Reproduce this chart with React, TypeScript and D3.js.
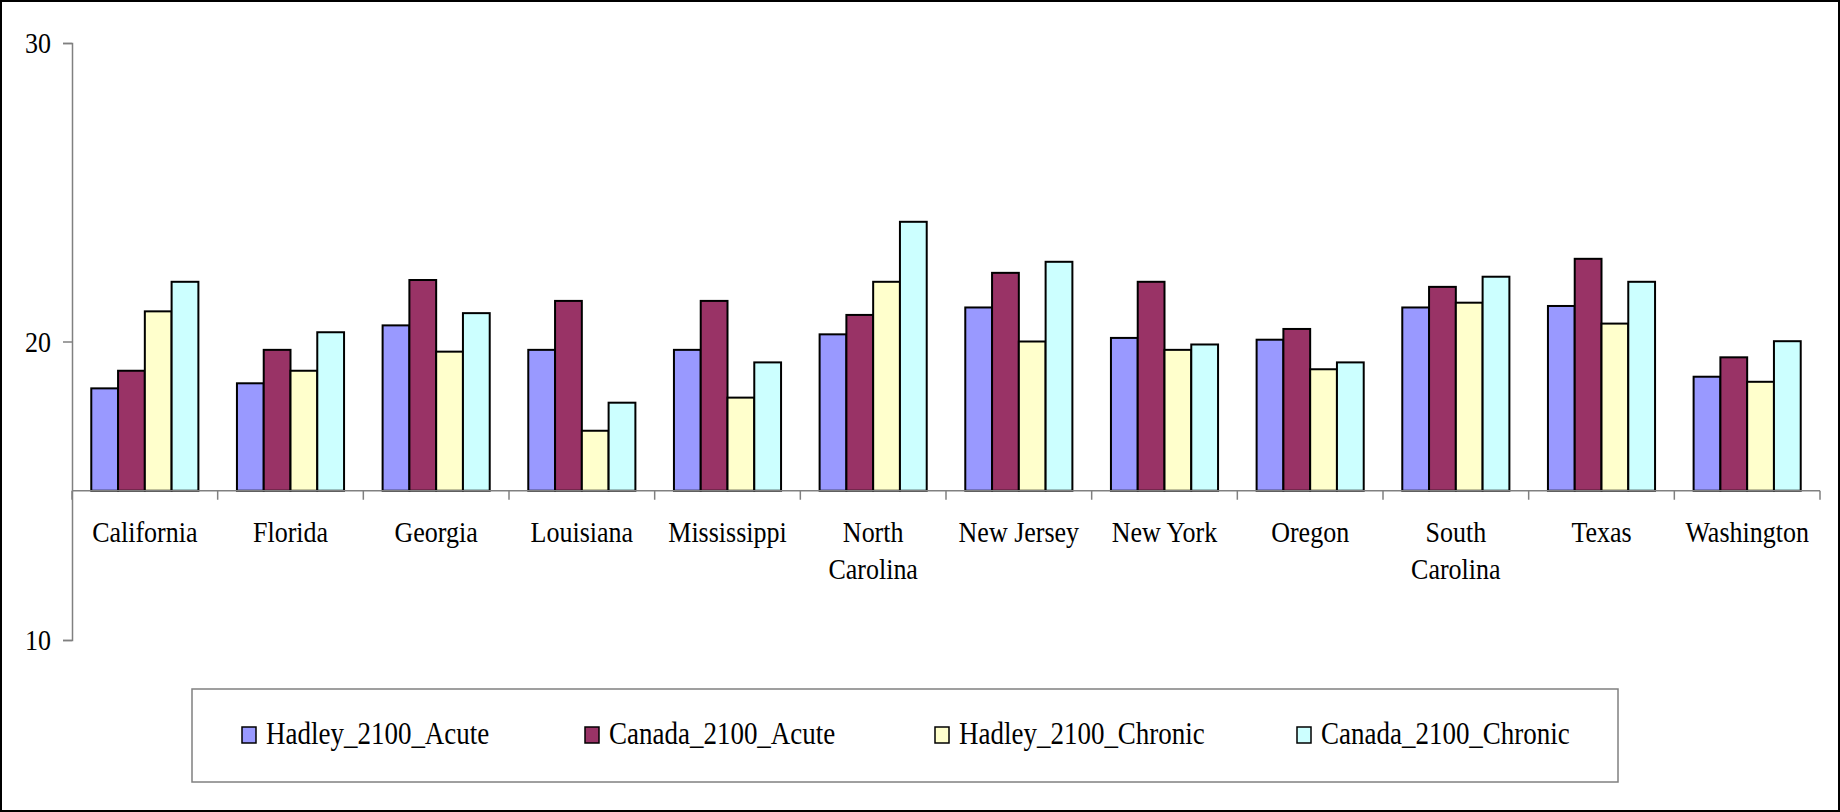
import * as d3 from "d3";
import { useEffect, useMemo, useRef } from "react";

const WIDTH = 1840;
const HEIGHT = 812;
const MARGIN = { top: 43, right: 20, bottom: 172, left: 72 };
const FONT = "'Liberation Serif', 'Times New Roman', serif";
const STRETCH = "scale(1,1.15)"; // the source text is a bit taller than plain Times

const categories = [
  "California", "Florida", "Georgia", "Louisiana", "Mississippi", "North Carolina",
  "New Jersey", "New York", "Oregon", "South Carolina", "Texas", "Washington",
];
const seriesNames = ["Hadley_2100_Acute", "Canada_2100_Acute", "Hadley_2100_Chronic", "Canada_2100_Chronic"];
const seriesColors = ["#9999FF", "#993366", "#FFFFCC", "#CCFFFF"];

const hadleyAcute = [18.43, 18.6, 20.54, 19.72, 19.72, 20.24, 21.14, 20.12, 20.06, 21.14, 21.19, 18.82];
const canadaAcute = [19.02, 19.72, 22.06, 21.36, 21.36, 20.89, 22.3, 22.0, 20.42, 21.83, 22.77, 19.47];
const hadleyChronic = [21.01, 19.02, 19.66, 17.01, 18.12, 22.0, 20.0, 19.72, 19.07, 21.3, 20.6, 18.65];
const canadaChronic = [22.0, 20.31, 20.95, 17.95, 19.3, 24.01, 22.67, 19.9, 19.3, 22.17, 22.0, 20.01];
const seriesValues = [hadleyAcute, canadaAcute, hadleyChronic, canadaChronic];

const yTicks = [10, 20, 30];
const CROSS_AT = 15;

export default function App() {
  const yAxisRef = useRef<SVGGElement>(null);
  const boundsWidth = 1820 - MARGIN.left;
  const boundsHeight = 640 - MARGIN.top;

  const xScale = useMemo(
    () => d3.scaleBand().domain(categories).range([0, boundsWidth]),
    [boundsWidth]
  );
  // gap between groups ~ 1.44 bar widths
  const barWidth = xScale.bandwidth() / (seriesNames.length + 1.44);
  const groupPad = (xScale.bandwidth() - barWidth * seriesNames.length) / 2;

  const yScale = useMemo(
    () => d3.scaleLinear().domain([10, 30]).range([boundsHeight, 0]),
    [boundsHeight]
  );
  const baseY = yScale(CROSS_AT);

  useEffect(() => {
    const g = d3.select(yAxisRef.current);
    g.selectAll("*").remove();
    g.call(d3.axisLeft(yScale).tickValues(yTicks).tickSize(9).tickPadding(12).tickFormat(d3.format("d")));
    g.select(".domain").attr("stroke", "#808080").attr("stroke-width", 1.5);
    g.selectAll(".tick line").attr("stroke", "#808080").attr("stroke-width", 1.5);
    g.selectAll(".tick text")
      .attr("font-family", FONT)
      .attr("font-size", 26)
      .attr("fill", "#000")
      .attr("transform", STRETCH);
  }, [yScale]);

  const bars = categories.map((c, i) =>
    seriesValues.map((vals, s) => {
      const v = vals[i];
      const x = (xScale(c) ?? 0) + groupPad + s * barWidth;
      return (
        <rect
          key={`${c}-${s}`}
          x={x}
          y={yScale(v)}
          width={barWidth}
          height={baseY - yScale(v)}
          fill={seriesColors[s]}
          stroke="#000"
          strokeWidth={2}
        />
      );
    })
  );

  const tickXs = categories.map((c) => xScale(c) ?? 0).concat([boundsWidth]);

  const labels = categories.map((c) => {
    const lines = c.length > 12 ? c.split(" ") : [c];
    const cx = (xScale(c) ?? 0) + xScale.bandwidth() / 2;
    return (
      <g key={c} transform={`translate(${cx},${baseY + 51}) ${STRETCH}`}>
        <text textAnchor="middle" fontFamily={FONT} fontSize={26} fill="#000">
          {lines.map((l, k) => (
            <tspan key={k} x={0} dy={k === 0 ? 0 : 32}>
              {l}
            </tspan>
          ))}
        </text>
      </g>
    );
  });

  const legendX = [242, 585, 935, 1297];

  return (
    <svg width={WIDTH} height={HEIGHT} style={{ position: "absolute", left: 0, top: 0, background: "#fff" }}>
      <rect x={1} y={1} width={WIDTH - 2} height={HEIGHT - 2} fill="#fff" stroke="#000" strokeWidth={2} />
      <g transform={`translate(${MARGIN.left},${MARGIN.top})`}>
        {bars}
        <line x1={0} x2={boundsWidth} y1={baseY} y2={baseY} stroke="#808080" strokeWidth={1.5} />
        {tickXs.map((x, i) => (
          <line key={i} x1={x} x2={x} y1={baseY} y2={baseY + 9} stroke="#808080" strokeWidth={1.5} />
        ))}
        {labels}
        <g ref={yAxisRef} />
      </g>
      <rect x={192} y={689} width={1426} height={93} fill="#fff" stroke="#808080" strokeWidth={1.5} />
      {seriesNames.map((n, s) => (
        <g key={n} transform={`translate(${legendX[s]},735)`}>
          <rect x={0} y={-8} width={14} height={16} fill={seriesColors[s]} stroke="#000" strokeWidth={1.5} />
          <text x={24} y={8} fontFamily={FONT} fontSize={27} fill="#000" transform={STRETCH}>
            {n}
          </text>
        </g>
      ))}
    </svg>
  );
}
